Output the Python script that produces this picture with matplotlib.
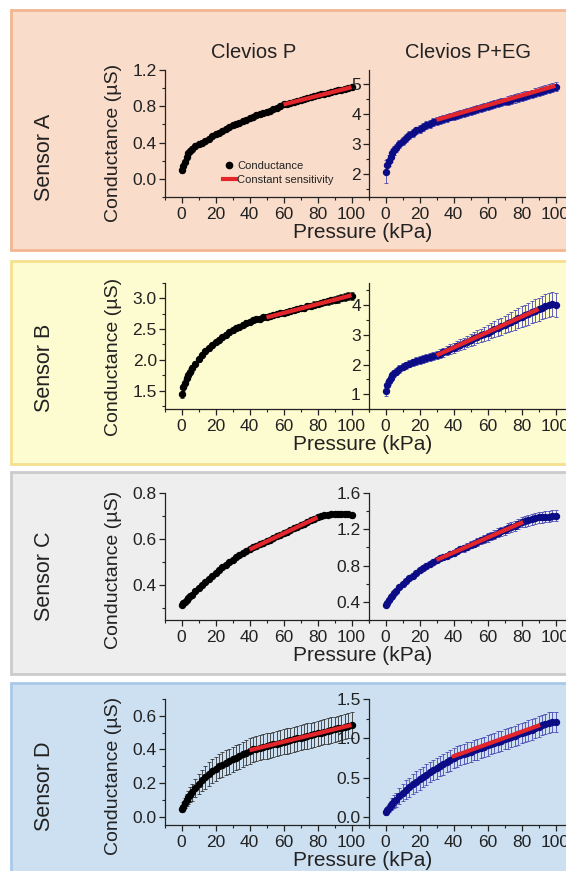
import matplotlib
matplotlib.use("Agg")
import matplotlib.pyplot as plt
from matplotlib.lines import Line2D
from matplotlib.patches import Rectangle
from matplotlib.ticker import MultipleLocator, FormatStrFormatter

plt.rcParams["font.family"] = ["Liberation Sans", "DejaVu Sans"]
TEXT = "#222222"

# pressure (kPa), shared by every series
pressure = [0, 1, 2, 3, 4, 5, 6, 8, 10, 12, 14, 16, 18, 20, 22, 24, 26, 28, 30,
            32, 34, 36, 38, 40, 42, 44, 46, 48, 50, 52, 54, 56, 58, 60, 62, 64,
            66, 68, 70, 72, 74, 76, 78, 80, 82, 84, 86, 88, 90, 92, 94, 96, 98, 100]

# conductance (uS) -- Clevios P
a_p = [0.10, 0.14, 0.19, 0.24, 0.28, 0.31, 0.33, 0.36, 0.38, 0.40, 0.42, 0.44, 0.47, 0.49,
       0.51, 0.53, 0.55, 0.57, 0.59, 0.61, 0.62, 0.64, 0.65, 0.67, 0.68, 0.70, 0.71, 0.73,
       0.74, 0.75, 0.77, 0.78, 0.80, 0.82, 0.83, 0.84, 0.85, 0.86, 0.87, 0.88, 0.89, 0.90,
       0.91, 0.92, 0.93, 0.94, 0.945, 0.955, 0.965, 0.975, 0.985, 0.995, 1.00, 1.01]
a_p_err = [0.03, 0.03, 0.03, 0.03, 0.03, 0.03, 0.03, 0.03, 0.03, 0.03, 0.025, 0.025, 0.025,
           0.025, 0.025, 0.025, 0.025, 0.025, 0.025, 0.025, 0.025, 0.025, 0.025, 0.025,
           0.025, 0.025, 0.025, 0.025, 0.025, 0.025, 0.025, 0.025, 0.025, 0.025, 0.025,
           0.025, 0.025, 0.025, 0.025, 0.025, 0.025, 0.025, 0.025, 0.025, 0.025, 0.025,
           0.025, 0.025, 0.025, 0.025, 0.025, 0.025, 0.025, 0.025]
b_p = [1.45, 1.55, 1.63, 1.70, 1.76, 1.81, 1.86, 1.94, 2.01, 2.08, 2.14, 2.19, 2.24, 2.29,
       2.33, 2.37, 2.41, 2.45, 2.48, 2.51, 2.54, 2.57, 2.60, 2.62, 2.64, 2.66, 2.67, 2.69,
       2.70, 2.71, 2.73, 2.74, 2.76, 2.77, 2.78, 2.80, 2.81, 2.83, 2.84, 2.85, 2.87, 2.88,
       2.90, 2.91, 2.92, 2.94, 2.95, 2.97, 2.98, 2.99, 3.01, 3.02, 3.04, 3.04]
b_p_err = [0.07, 0.06, 0.05, 0.05, 0.05, 0.05, 0.05, 0.04, 0.04, 0.04, 0.04, 0.04, 0.04,
           0.04, 0.04, 0.04, 0.04, 0.04, 0.04, 0.04, 0.04, 0.04, 0.04, 0.04, 0.04, 0.04,
           0.04, 0.04, 0.04, 0.04, 0.04, 0.04, 0.04, 0.04, 0.05, 0.05, 0.05, 0.05, 0.05,
           0.05, 0.05, 0.05, 0.05, 0.05, 0.05, 0.05, 0.06, 0.06, 0.06, 0.06, 0.06, 0.06,
           0.06, 0.06]
c_p = [0.315, 0.322, 0.330, 0.337, 0.345, 0.352, 0.359, 0.374, 0.388, 0.402, 0.416, 0.429,
       0.442, 0.455, 0.467, 0.479, 0.490, 0.501, 0.512, 0.522, 0.531, 0.540, 0.549, 0.557,
       0.564, 0.571, 0.578, 0.585, 0.592, 0.598, 0.605, 0.612, 0.619, 0.626, 0.633, 0.640,
       0.647, 0.653, 0.660, 0.667, 0.674, 0.681, 0.688, 0.694, 0.699, 0.703, 0.706, 0.708,
       0.710, 0.711, 0.711, 0.710, 0.708, 0.703]
c_p_err = [0.005, 0.005, 0.005, 0.005, 0.005, 0.005, 0.005, 0.005, 0.005, 0.005, 0.005,
           0.005, 0.005, 0.005, 0.005, 0.005, 0.005, 0.005, 0.005, 0.005, 0.005, 0.005,
           0.005, 0.005, 0.005, 0.005, 0.005, 0.005, 0.005, 0.005, 0.005, 0.006, 0.006,
           0.006, 0.006, 0.006, 0.006, 0.007, 0.007, 0.007, 0.007, 0.008, 0.008, 0.008,
           0.008, 0.009, 0.009, 0.009, 0.010, 0.010, 0.010, 0.010, 0.010, 0.010]
d_p = [0.045, 0.06, 0.08, 0.10, 0.115, 0.13, 0.145, 0.17, 0.195, 0.215, 0.235, 0.255, 0.27,
       0.285, 0.30, 0.31, 0.32, 0.33, 0.34, 0.35, 0.36, 0.37, 0.38, 0.39, 0.40, 0.405, 0.41,
       0.415, 0.42, 0.425, 0.43, 0.435, 0.44, 0.445, 0.45, 0.455, 0.46, 0.465, 0.47, 0.475,
       0.48, 0.485, 0.49, 0.495, 0.50, 0.505, 0.51, 0.515, 0.52, 0.525, 0.53, 0.535, 0.54,
       0.545]
d_p_err = [0.02, 0.025, 0.03, 0.035, 0.04, 0.045, 0.05, 0.055, 0.06, 0.065, 0.068, 0.07,
           0.07, 0.072, 0.072, 0.074, 0.074, 0.075, 0.075, 0.075, 0.075, 0.075, 0.075, 0.075,
           0.075, 0.075, 0.075, 0.075, 0.075, 0.075, 0.075, 0.075, 0.075, 0.075, 0.075,
           0.075, 0.075, 0.075, 0.075, 0.075, 0.075, 0.075, 0.075, 0.075, 0.075, 0.075,
           0.075, 0.075, 0.075, 0.075, 0.075, 0.075, 0.075, 0.075]

# conductance (uS) -- Clevios P+EG
a_eg = [2.08, 2.30, 2.45, 2.58, 2.69, 2.79, 2.87, 3.00, 3.11, 3.21, 3.30, 3.38, 3.45, 3.51,
        3.57, 3.62, 3.67, 3.72, 3.77, 3.81, 3.84, 3.87, 3.91, 3.94, 3.97, 4.00, 4.04, 4.07,
        4.10, 4.13, 4.16, 4.19, 4.22, 4.26, 4.29, 4.32, 4.35, 4.38, 4.41, 4.44, 4.47, 4.51,
        4.54, 4.57, 4.60, 4.63, 4.66, 4.70, 4.73, 4.76, 4.79, 4.83, 4.86, 4.90]
a_eg_err = [0.38, 0.20, 0.18, 0.16, 0.15, 0.15, 0.14, 0.14, 0.14, 0.13, 0.13, 0.13, 0.13,
            0.13, 0.13, 0.13, 0.13, 0.13, 0.13, 0.13, 0.13, 0.13, 0.13, 0.13, 0.13, 0.13,
            0.13, 0.13, 0.13, 0.13, 0.13, 0.13, 0.13, 0.13, 0.13, 0.13, 0.13, 0.13, 0.13,
            0.14, 0.14, 0.14, 0.14, 0.14, 0.14, 0.14, 0.14, 0.15, 0.15, 0.15, 0.15, 0.15,
            0.15, 0.15]
b_eg = [1.10, 1.30, 1.44, 1.55, 1.63, 1.70, 1.76, 1.85, 1.92, 1.98, 2.03, 2.07, 2.11, 2.15,
        2.19, 2.22, 2.26, 2.29, 2.32, 2.37, 2.42, 2.47, 2.52, 2.57, 2.62, 2.67, 2.72, 2.77,
        2.82, 2.88, 2.93, 2.98, 3.03, 3.08, 3.14, 3.19, 3.24, 3.29, 3.35, 3.40, 3.45, 3.50,
        3.56, 3.61, 3.66, 3.71, 3.77, 3.82, 3.87, 3.92, 3.97, 4.02, 4.05, 4.02]
b_eg_err = [0.15, 0.13, 0.12, 0.12, 0.12, 0.12, 0.12, 0.12, 0.12, 0.12, 0.12, 0.12, 0.13,
            0.13, 0.13, 0.13, 0.14, 0.14, 0.14, 0.15, 0.15, 0.16, 0.16, 0.17, 0.17, 0.18,
            0.18, 0.19, 0.20, 0.21, 0.22, 0.23, 0.24, 0.25, 0.26, 0.27, 0.28, 0.29, 0.30,
            0.31, 0.32, 0.33, 0.34, 0.35, 0.36, 0.37, 0.38, 0.38, 0.39, 0.39, 0.40, 0.40,
            0.40, 0.40]
c_eg = [0.36, 0.39, 0.42, 0.45, 0.47, 0.50, 0.52, 0.56, 0.60, 0.63, 0.66, 0.69, 0.72, 0.75,
        0.77, 0.80, 0.82, 0.84, 0.86, 0.88, 0.89, 0.91, 0.93, 0.94, 0.96, 0.98, 0.99, 1.01,
        1.03, 1.04, 1.06, 1.08, 1.09, 1.11, 1.13, 1.14, 1.16, 1.18, 1.19, 1.21, 1.23, 1.24,
        1.26, 1.28, 1.29, 1.30, 1.31, 1.32, 1.33, 1.33, 1.34, 1.34, 1.35, 1.35]
c_eg_err = [0.02, 0.02, 0.02, 0.02, 0.02, 0.02, 0.02, 0.02, 0.02, 0.02, 0.02, 0.02, 0.02,
            0.02, 0.02, 0.02, 0.02, 0.02, 0.02, 0.03, 0.03, 0.03, 0.03, 0.03, 0.035, 0.035,
            0.035, 0.035, 0.04, 0.04, 0.04, 0.04, 0.045, 0.045, 0.045, 0.05, 0.05, 0.05,
            0.05, 0.055, 0.055, 0.055, 0.055, 0.06, 0.06, 0.06, 0.06, 0.06, 0.06, 0.06,
            0.06, 0.06, 0.06, 0.06]
d_eg = [0.06, 0.09, 0.12, 0.15, 0.17, 0.20, 0.22, 0.27, 0.31, 0.35, 0.38, 0.42, 0.45, 0.48,
        0.51, 0.54, 0.57, 0.60, 0.62, 0.65, 0.67, 0.70, 0.72, 0.75, 0.77, 0.79, 0.80, 0.82,
        0.83, 0.85, 0.86, 0.88, 0.89, 0.91, 0.93, 0.94, 0.96, 0.97, 0.99, 1.00, 1.02, 1.03,
        1.05, 1.07, 1.08, 1.10, 1.11, 1.13, 1.15, 1.17, 1.18, 1.20, 1.21, 1.21]
d_eg_err = [0.03, 0.04, 0.05, 0.06, 0.07, 0.08, 0.09, 0.10, 0.11, 0.12, 0.12, 0.13, 0.13,
            0.13, 0.13, 0.13, 0.13, 0.13, 0.13, 0.13, 0.13, 0.13, 0.13, 0.13, 0.13, 0.13,
            0.13, 0.13, 0.13, 0.13, 0.13, 0.13, 0.13, 0.13, 0.13, 0.13, 0.13, 0.13, 0.13,
            0.13, 0.13, 0.13, 0.13, 0.13, 0.13, 0.13, 0.13, 0.13, 0.13, 0.13, 0.13, 0.13,
            0.13, 0.13]

# constant-sensitivity fits: (start, end) pressure and conductance
fit_p_x = {"A": [60, 100], "B": [50, 100], "C": [40, 80], "D": [40, 100]}
fit_p_y = {"A": [0.82, 1.01], "B": [2.69, 3.05], "C": [0.555, 0.694], "D": [0.395, 0.545]}
fit_eg_x = {"A": [30, 100], "B": [30, 90], "C": [30, 81], "D": [39, 91]}
fit_eg_y = {"A": [3.80, 4.93], "B": [2.31, 3.87], "C": [0.862, 1.28], "D": [0.765, 1.17]}

series_p = {"A": (a_p, a_p_err), "B": (b_p, b_p_err), "C": (c_p, c_p_err), "D": (d_p, d_p_err)}
series_eg = {"A": (a_eg, a_eg_err), "B": (b_eg, b_eg_err), "C": (c_eg, c_eg_err), "D": (d_eg, d_eg_err)}

W, H = 566, 871

# layout in pixels: box top/bottom, axes top/bottom, sensor label y, ylabel y,
# y limits, y tick steps, colours
panels = [
    dict(key="A", box=(10, 250), ax=(70, 197), sensor_y=157, ylab_y=143,
         ylim_p=(-0.2, 1.2), tick_p=(0.4, 0.2), fmt_p="%.1f",
         ylim_eg=(1.25, 5.45), tick_eg=(1, 0.5), fmt_eg="%d",
         face="#f9dcca", edge="#f2b690"),
    dict(key="B", box=(261, 464), ax=(283, 409), sensor_y=368, ylab_y=357,
         ylim_p=(1.2, 3.25), tick_p=(0.5, 0.25), fmt_p="%.1f",
         ylim_eg=(0.5, 4.75), tick_eg=(1, 0.5), fmt_eg="%d",
         face="#fdfbd0", edge="#f6e08e"),
    dict(key="C", box=(472, 674), ax=(493, 620), sensor_y=576, ylab_y=570,
         ylim_p=(0.25, 0.8), tick_p=(0.2, 0.1), fmt_p="%.1f",
         ylim_eg=(0.2, 1.6), tick_eg=(0.4, 0.2), fmt_eg="%.1f",
         face="#eeeeee", edge="#cbcbcb"),
    dict(key="D", box=(683, 900), ax=(699, 825), sensor_y=786, ylab_y=776,
         ylim_p=(-0.05, 0.7), tick_p=(0.2, 0.1), fmt_p="%.1f",
         ylim_eg=(-0.1, 1.5), tick_eg=(0.5, 0.25), fmt_eg="%.1f",
         face="#cde0f1", edge="#a9c9e8"),
]

X0, XMID, XEND = 164.5, 368.5, 572.5


def style_axes(ax, ylim, ticks, fmt):
    ax.set_facecolor("none")
    ax.set_xlim(-10, 110)
    ax.set_ylim(*ylim)
    for side in ("top", "right"):
        ax.spines[side].set_visible(False)
    for side in ("left", "bottom"):
        ax.spines[side].set_color(TEXT)
        ax.spines[side].set_linewidth(0.9)
    ax.xaxis.set_major_locator(MultipleLocator(20))
    ax.xaxis.set_minor_locator(MultipleLocator(10))
    ax.yaxis.set_major_locator(MultipleLocator(ticks[0]))
    ax.yaxis.set_minor_locator(MultipleLocator(ticks[1]))
    ax.yaxis.set_major_formatter(FormatStrFormatter(fmt))
    ax.tick_params(which="major", direction="out", length=4, width=0.9,
                   labelsize=12.5, colors=TEXT, pad=1.5)
    ax.tick_params(which="minor", direction="out", length=2.2, width=0.8, colors=TEXT)
    ax.tick_params(axis="x", which="major", pad=3)


fig = plt.figure(figsize=(W / 100, H / 100), dpi=100)

for pan in panels:
    k = pan["key"]
    top, bot = pan["box"]
    fig.add_artist(Rectangle((11 / W, 1 - bot / H), 1.0, (bot - top) / H,
                             transform=fig.transFigure, facecolor=pan["face"],
                             edgecolor=pan["edge"], linewidth=2, zorder=0))

    at, ab = pan["ax"]
    y0 = 1 - ab / H
    hh = (ab - at) / H
    ax1 = fig.add_axes([X0 / W, y0, (XMID - X0) / W, hh])
    ax2 = fig.add_axes([XMID / W, y0, (XEND - XMID) / W, hh])

    vals, errs = series_p[k]
    ax1.errorbar(pressure, vals, yerr=errs, fmt="o", ms=4.3, color="black",
                 ecolor="#333333", elinewidth=0.6, capsize=1.5, capthick=0.6, zorder=2)
    ax1.plot(fit_p_x[k], fit_p_y[k], color="#e3262b", lw=3, solid_capstyle="butt", zorder=3)

    vals, errs = series_eg[k]
    ax2.errorbar(pressure, vals, yerr=errs, fmt="o", ms=4.3, color="#0c0c86",
                 ecolor="#4848b4", elinewidth=0.6, capsize=1.5, capthick=0.6, zorder=2)
    ax2.plot(fit_eg_x[k], fit_eg_y[k], color="#e3262b", lw=3, solid_capstyle="butt", zorder=3)

    style_axes(ax1, pan["ylim_p"], pan["tick_p"], pan["fmt_p"])
    style_axes(ax2, pan["ylim_eg"], pan["tick_eg"], pan["fmt_eg"])

    fig.text(44 / W, 1 - pan["sensor_y"] / H, f"Sensor {k}", rotation=90,
             ha="center", va="center", fontsize=15.5, color=TEXT)
    fig.text(113 / W, 1 - pan["ylab_y"] / H, "Conductance (\u00b5S)", rotation=90,
             ha="center", va="center", fontsize=14, color=TEXT)
    fig.text(363 / W, 1 - (ab + 35) / H, "Pressure (kPa)", ha="center", va="center",
             fontsize=15, color=TEXT)

    if k == "A":
        handles = [Line2D([], [], marker="o", ms=4.5, color="black", ls="none"),
                   Line2D([], [], color="#e3262b", lw=3)]
        ax1.legend(handles, ["Conductance", "Constant sensitivity"], loc="center left",
                   bbox_to_anchor=(0.285, 0.19), frameon=False, fontsize=8,
                   handlelength=1.2, handletextpad=0.1, labelspacing=0.35,
                   borderpad=0, borderaxespad=0, labelcolor=TEXT)

fig.text(254 / W, 1 - 53 / H, "Clevios P", ha="center", va="center", fontsize=14.5, color=TEXT)
fig.text(468 / W, 1 - 53 / H, "Clevios P+EG", ha="center", va="center", fontsize=14.5, color=TEXT)

fig.savefig("out.png", dpi=100)
